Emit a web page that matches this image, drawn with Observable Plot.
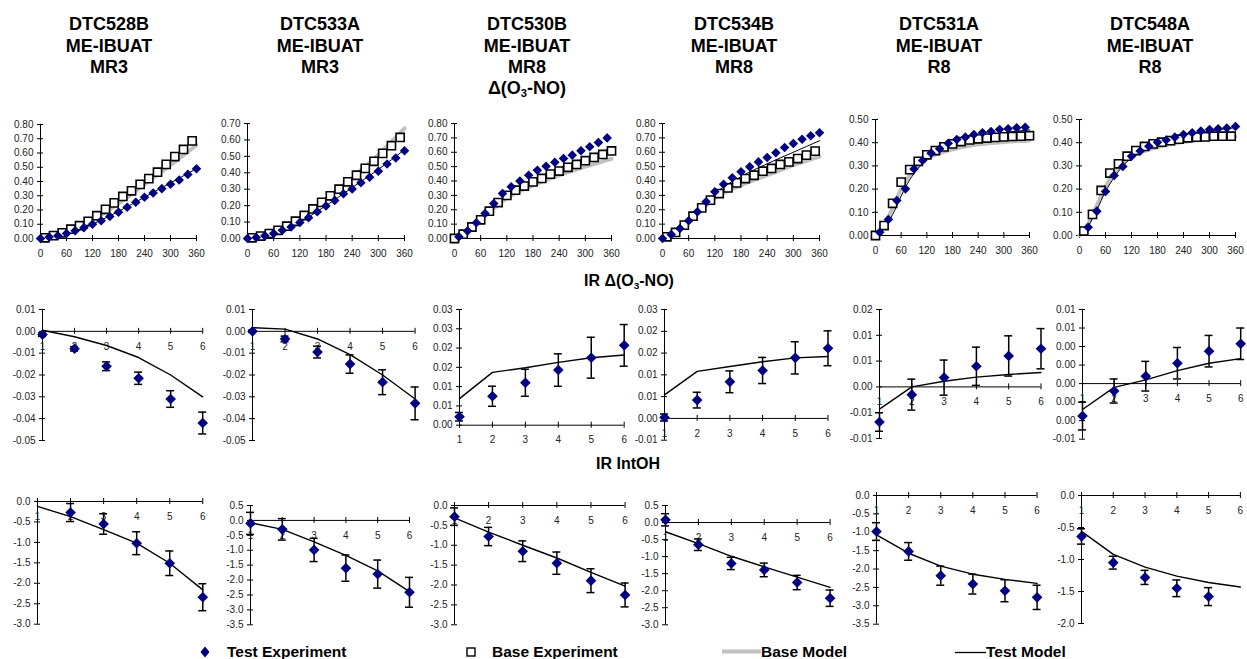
<!DOCTYPE html>
<html><head><meta charset="utf-8">
<script src="https://cdn.jsdelivr.net/npm/d3@7"></script>
<script src="https://cdn.jsdelivr.net/npm/@observablehq/plot@0.6"></script>
<style>
body{margin:0;background:#fff;}
#chart{position:relative;width:1247px;height:659px;overflow:hidden;font-family:"Liberation Sans",Arial,sans-serif;background:#fff;}
.title{position:absolute;font-weight:bold;font-size:18px;transform:translate(-50%,-50%);white-space:nowrap;color:#000;line-height:1;}
.title sub,.leg sub{font-size:0.62em;vertical-align:-0.25em;}
.leg{position:absolute;font-weight:bold;font-size:15.5px;transform:translateY(-50%);white-space:nowrap;line-height:1;}
svg.panel{position:absolute;overflow:visible;}
</style></head><body><div id="chart"></div>
<script>
// ---------------- DATA ----------------
const experiments = ["DTC528B","DTC533A","DTC530B","DTC534B","DTC531A","DTC548A"];
const compounds = ["ME-IBUAT","ME-IBUAT","ME-IBUAT","ME-IBUAT","ME-IBUAT","ME-IBUAT"];
const surrogates = ["MR3","MR3","MR8","MR8","R8","R8"];

// time axes (minutes)
const tEven = [0,20,40,60,80,100,120,140,160,180,200,220,240,260,280,300,320,340,360];
const tOdd = [10,30,50,70,90,110,130,150,170,190,210,230,250,270,290,310,330,350];
const tEvenNo0 = [20,40,60,80,100,120,140,160,180,200,220,240,260,280,300,320,340,360];
const tModelA = [0,30,60,90,120,180,240,300,360];
const tModelB = [0,20,40,60,80,100,120,160,200,240,300,360];
const topXTicks = [0,60,120,180,240,300,360];
const topXLabels = ["0","60","120","180","240","300","360"];

// Δ(O3-NO) time series
const test528 = [0,0.01,0.02,0.035,0.055,0.075,0.10,0.125,0.155,0.185,0.22,0.255,0.29,0.32,0.35,0.38,0.41,0.45,0.49];
const base528 = [0.005,0.02,0.04,0.065,0.09,0.12,0.16,0.205,0.25,0.295,0.335,0.38,0.42,0.465,0.52,0.575,0.625,0.685];
const baseModel528 = [0,0.015,0.04,0.08,0.13,0.245,0.38,0.515,0.655];
const testModel528 = [0,0.015,0.035,0.06,0.10,0.19,0.29,0.39,0.49];

const test533 = [0,0.006,0.016,0.03,0.05,0.07,0.097,0.127,0.163,0.198,0.232,0.272,0.302,0.339,0.373,0.41,0.454,0.49,0.534];
const base533 = [0.004,0.015,0.03,0.05,0.075,0.105,0.14,0.18,0.22,0.26,0.30,0.345,0.385,0.427,0.47,0.518,0.565,0.615];
const baseModel533 = [0,0.012,0.04,0.075,0.12,0.24,0.37,0.51,0.67];
const testModel533 = [0,0.01,0.03,0.06,0.10,0.20,0.31,0.42,0.54];

const test530 = [0.012,0.053,0.11,0.174,0.243,0.313,0.36,0.40,0.44,0.475,0.503,0.53,0.556,0.58,0.61,0.638,0.668,0.70];
const base530 = [0,0.03,0.08,0.13,0.19,0.25,0.30,0.336,0.365,0.394,0.418,0.448,0.469,0.495,0.515,0.541,0.564,0.585,0.609];
const baseModel530 = [0,0.06,0.13,0.21,0.28,0.37,0.44,0.50,0.555];
const testModel530 = [0,0.06,0.14,0.23,0.31,0.41,0.49,0.56,0.63];

const test534 = [0,0.028,0.07,0.123,0.186,0.255,0.325,0.378,0.422,0.464,0.499,0.533,0.563,0.596,0.633,0.661,0.691,0.715,0.735];
const base534 = [0.012,0.042,0.093,0.155,0.213,0.267,0.313,0.352,0.387,0.417,0.44,0.468,0.487,0.515,0.533,0.556,0.58,0.608];
const baseModel534 = [0,0.05,0.12,0.20,0.28,0.37,0.44,0.51,0.57];
const testModel534 = [0,0.05,0.12,0.21,0.31,0.43,0.52,0.60,0.68];

const test531 = [0.014,0.069,0.151,0.201,0.287,0.323,0.355,0.374,0.398,0.414,0.424,0.435,0.443,0.448,0.457,0.46,0.464,0.467];
const base531 = [0,0.043,0.139,0.23,0.284,0.32,0.348,0.366,0.382,0.395,0.405,0.412,0.417,0.42,0.423,0.425,0.427,0.428,0.43];
const baseModel531 = [0,0.04,0.12,0.2,0.26,0.3,0.33,0.36,0.38,0.393,0.403,0.41];
const testModel531 = [0,0.03,0.09,0.17,0.24,0.29,0.33,0.375,0.405,0.425,0.443,0.455];

const test548 = [0.036,0.105,0.19,0.259,0.297,0.342,0.364,0.385,0.402,0.412,0.424,0.435,0.443,0.45,0.457,0.46,0.463,0.47];
const base548 = [0.019,0.091,0.194,0.269,0.309,0.342,0.366,0.384,0.395,0.402,0.409,0.415,0.421,0.424,0.425,0.428,0.428,0.428];
const baseModel548 = [0,0.05,0.13,0.21,0.27,0.31,0.34,0.37,0.39,0.403,0.415,0.425];
const testModel548 = [0,0.04,0.11,0.19,0.25,0.30,0.335,0.38,0.41,0.43,0.45,0.465];

// Incremental reactivity (hours)
const hours = [1,2,3,4,5,6];
const hours2to6 = [2,3,4,5,6];
const hours1to5 = [1,2,3,4,5];
const hourLabels = ["1","2","3","4","5","6"];

// IR Δ(O3-NO)
const irO3_528 = [-0.0015,-0.008,-0.016,-0.0215,-0.031,-0.042];
const irO3Err_528 = [0.0008,0.001,0.002,0.0028,0.0038,0.005];
const irO3Model_528 = [0.0005,-0.0025,-0.0065,-0.012,-0.020,-0.030];
const irO3_533 = [0.0,-0.0035,-0.0095,-0.015,-0.0233,-0.033];
const irO3Err_533 = [0.0005,0.0013,0.0027,0.0042,0.0057,0.0075];
const irO3Model_533 = [0.0017,0.001,-0.0035,-0.0107,-0.020,-0.031];
const irO3_530 = [0.0022,0.0075,0.011,0.0143,0.0175,0.0207];
const irO3Err_530 = [0.0011,0.0026,0.0035,0.0042,0.0053,0.0054];
const irO3Model_530 = [0.0069,0.0137,0.0149,0.0163,0.0175,0.0182];
const irO3_534 = [0.0002,0.0042,0.0084,0.011,0.0139,0.0161];
const irO3Err_534 = [0.0008,0.0018,0.0025,0.003,0.0037,0.004];
const irO3Model_534 = [0.0054,0.0108,0.0119,0.013,0.0139,0.0142];
const irO3_531 = [-0.0068,-0.0015,0.0018,0.004,0.006,0.0074];
const irO3Err_531 = [0.0018,0.003,0.0034,0.0037,0.0039,0.0039];
const irO3Model_531 = [-0.0043,0.0,0.0011,0.0019,0.0024,0.0028];
const irO3_548 = [-0.0035,-0.0008,0.0008,0.0022,0.0035,0.0043];
const irO3Err_548 = [0.0015,0.0013,0.0016,0.0017,0.0017,0.0017];
const irO3Model_548 = [-0.0028,-0.0004,0.0004,0.0014,0.0022,0.0027];

// IR IntOH
const irOH_528 = [-0.27,-0.55,-1.02,-1.51,-2.34];
const irOHErr_528 = [0.22,0.25,0.28,0.3,0.33];
const irOHModel_528 = [-0.12,-0.37,-0.69,-1.02,-1.51,-2.16];
const irOH_533 = [-0.1,-0.3,-0.99,-1.6,-1.8,-2.41];
const irOHErr_533 = [0.37,0.36,0.39,0.44,0.47,0.5];
const irOHModel_533 = [-0.08,-0.3,-0.72,-1.17,-1.69,-2.39];
const irOH_530 = [-0.28,-0.78,-1.15,-1.45,-1.89,-2.25];
const irOHErr_530 = [0.22,0.23,0.26,0.28,0.3,0.3];
const irOHModel_530 = [-0.31,-0.67,-1.0,-1.32,-1.68,-2.03];
const irOH_534 = [0.08,-0.65,-1.2,-1.39,-1.76,-2.22];
const irOHErr_534 = [0.18,0.17,0.18,0.2,0.21,0.24];
const irOHModel_534 = [-0.27,-0.62,-0.99,-1.3,-1.6,-1.9];
const irOH_531 = [-0.98,-1.52,-2.18,-2.41,-2.59,-2.77];
const irOHErr_531 = [0.24,0.24,0.26,0.27,0.3,0.33];
const irOHModel_531 = [-1.07,-1.57,-1.92,-2.14,-2.28,-2.39];
const irOH_548 = [-0.64,-1.05,-1.28,-1.45,-1.58];
const irOHErr_548 = [0.12,0.1,0.11,0.13,0.14];
const irOHModel_548 = [-0.56,-0.92,-1.12,-1.26,-1.36,-1.43];

// y tick values and labels
const yT_08 = [0,0.1,0.2,0.3,0.4,0.5,0.6,0.7,0.8];
const yL_08 = ["0.00","0.10","0.20","0.30","0.40","0.50","0.60","0.70","0.80"];
const yT_07 = [0,0.1,0.2,0.3,0.4,0.5,0.6,0.7];
const yL_07 = ["0.00","0.10","0.20","0.30","0.40","0.50","0.60","0.70"];
const yT_05 = [0,0.1,0.2,0.3,0.4,0.5];
const yL_05 = ["0.00","0.10","0.20","0.30","0.40","0.50"];

const yT_m1 = [0.01,0,-0.01,-0.02,-0.03,-0.04,-0.05];
const yL_m1 = ["0.01","0.00","-0.01","-0.02","-0.03","-0.04","-0.05"];
const yT_m3 = [0.03,0.025,0.02,0.015,0.01,0.005,0];
const yL_m3 = ["0.03","0.03","0.02","0.02","0.01","0.01","0.00"];
const yT_m4 = [0.025,0.02,0.015,0.01,0.005,0,-0.005];
const yL_m4 = ["0.03","0.02","0.02","0.01","0.01","0.00","-0.01"];
const yT_m5 = [0.015,0.01,0.005,0,-0.005,-0.01];
const yL_m5 = ["0.02","0.01","0.01","0.00","-0.01","-0.01"];
const yT_m6 = [0.008,0.006,0.004,0.002,0,-0.002,-0.004,-0.006];
const yL_m6 = ["0.01","0.01","0.00","0.00","0.00","0.00","0.00","-0.01"];

const yT_b30 = [0,-0.5,-1,-1.5,-2,-2.5,-3];
const yL_b30 = ["0.0","-0.5","-1.0","-1.5","-2.0","-2.5","-3.0"];
const yT_b35h = [0.5,0,-0.5,-1,-1.5,-2,-2.5,-3,-3.5];
const yL_b35h = ["0.5","0.0","-0.5","-1.0","-1.5","-2.0","-2.5","-3.0","-3.5"];
const yT_b30h = [0.5,0,-0.5,-1,-1.5,-2,-2.5,-3];
const yL_b30h = ["0.5","0.0","-0.5","-1.0","-1.5","-2.0","-2.5","-3.0"];
const yT_b35 = [0,-0.5,-1,-1.5,-2,-2.5,-3,-3.5];
const yL_b35 = ["0.0","-0.5","-1.0","-1.5","-2.0","-2.5","-3.0","-3.5"];
const yT_b20 = [0,-0.5,-1,-1.5,-2];
const yL_b20 = ["0.0","-0.5","-1.0","-1.5","-2.0"];

// ---------------- HELPERS ----------------
const NAVY = "#000080", GRAY = "#c0c0c0", INK = "#000", LABEL = "#222";
const rows = (xs, ys, es) => xs.map((x, i) => ({x, y: ys[i], e: es ? es[i] : 0}));
const chart = document.getElementById("chart");

function addPanel(spec) {
  const [fx1, fx2, fy1, fy2] = spec.frame;
  const mL = 50, mR = 16, mT = 12, mB = 26;
  const fw = fx2 - fx1, fh = fy2 - fy1;
  const [x0, x1] = spec.xDomain;
  const [ylo, yhi] = spec.yDomain;
  const marks = [
    Plot.ruleX([x0], {x: d => d, y1: ylo, y2: yhi, stroke: INK, strokeWidth: 1}),
    Plot.ruleY([0], {y: d => d, x1: x0, x2: x1, stroke: INK, strokeWidth: 1}),
    Plot.ruleY(spec.yTicks, {y: d => d, x1: x0, x2: x0, insetLeft: -3, insetRight: -3, stroke: INK}),
    Plot.ruleX(spec.xTicks, {x: d => d, y1: 0, y2: 0, insetTop: -3, insetBottom: -3, stroke: INK}),
    Plot.text(spec.yTicks, {x: x0, y: d => d, text: (d, i) => spec.yLabels[i], textAnchor: "end", dx: -7, fontSize: 10, fill: LABEL, fontFamily: "Liberation Sans"}),
    Plot.text(spec.xTicks, {x: d => d, y: 0, text: (d, i) => spec.xLabels[i], dy: 15, fontSize: 10, fill: LABEL, fontFamily: "Liberation Sans"}),
    ...spec.marks
  ];
  const svg = Plot.plot({
    width: fw + mL + mR, height: fh + mT + mB,
    marginLeft: mL, marginRight: mR, marginTop: mT, marginBottom: mB,
    x: {domain: spec.xDomain, axis: null},
    y: {domain: spec.yDomain, axis: null},
    style: {background: "transparent", overflow: "visible"},
    marks
  });
  svg.classList.add("panel");
  svg.style.left = (fx1 - mL) + "px";
  svg.style.top = (fy1 - mT) + "px";
  chart.appendChild(svg);
}

function topMarks(tTest, test, tBase, base, tModel, baseModel, testModel) {
  return [
    Plot.line(rows(tModel, baseModel), {x: "x", y: "y", stroke: GRAY, strokeWidth: 4, curve: "monotone-x"}),
    Plot.line(rows(tModel, testModel), {x: "x", y: "y", stroke: INK, strokeWidth: 1, curve: "monotone-x"}),
    Plot.dot(rows(tBase, base), {x: "x", y: "y", symbol: "square", r: 4.6, fill: "#fff", stroke: INK, strokeWidth: 1.6}),
    Plot.dot(rows(tTest, test), {x: "x", y: "y", symbol: "diamond2", r: 4.3, fill: NAVY, stroke: "none"})
  ];
}

function irMarks(hTest, vals, errs, model) {
  const pts = rows(hTest, vals, errs);
  return [
    Plot.line(rows(hours, model), {x: "x", y: "y", stroke: INK, strokeWidth: 1.4}),
    Plot.ruleX(pts, {x: "x", y1: d => d.y - d.e, y2: d => d.y + d.e, stroke: INK, strokeWidth: 1.5}),
    Plot.ruleY(pts, {y: d => d.y + d.e, x1: "x", x2: "x", insetLeft: -4, insetRight: -4, stroke: INK, strokeWidth: 1.5}),
    Plot.ruleY(pts, {y: d => d.y - d.e, x1: "x", x2: "x", insetLeft: -4, insetRight: -4, stroke: INK, strokeWidth: 1.5}),
    Plot.dot(pts, {x: "x", y: "y", symbol: "diamond2", r: 4.8, fill: NAVY, stroke: "none"})
  ];
}

// ---------------- LAYOUT (page pixels) ----------------
const topFrames = [[40,196,124,238],[247,404,123,238],[454,611,123,238],[662,819,123,238],[875,1029,119,235],[1079,1235,119,235]];
const midFrames = [[41.8,202,309.3,440.3],[251.9,414.5,309.3,440.3],[459,623.7,309.3,425],[663.8,827.3,309.3,440],[879,1040.5,309.3,438.3],[1082.3,1240.5,309.3,439]];
const botFrames = [[36.7,202,501.3,624],[250.3,409.3,504.7,624],[454.4,625,504.7,624],[664.6,829.2,504.7,624],[875.9,1036.5,495.3,624],[1081.1,1240,495.3,623.3]];

// ---------------- TOP ROW ----------------
const topSpecs = [
  {yDomain: [0,0.8], yTicks: yT_08, yLabels: yL_08, marks: topMarks(tEven, test528, tOdd, base528, tModelA, baseModel528, testModel528)},
  {yDomain: [0,0.7], yTicks: yT_07, yLabels: yL_07, marks: topMarks(tEven, test533, tOdd, base533, tModelA, baseModel533, testModel533)},
  {yDomain: [0,0.8], yTicks: yT_08, yLabels: yL_08, marks: topMarks(tOdd, test530, tEven, base530, tModelA, baseModel530, testModel530)},
  {yDomain: [0,0.8], yTicks: yT_08, yLabels: yL_08, marks: topMarks(tEven, test534, tOdd, base534, tModelA, baseModel534, testModel534)},
  {yDomain: [0,0.5], yTicks: yT_05, yLabels: yL_05, marks: topMarks(tOdd, test531, tEven, base531, tModelB, baseModel531, testModel531)},
  {yDomain: [0,0.5], yTicks: yT_05, yLabels: yL_05, marks: topMarks(tEvenNo0, test548, tOdd, base548, tModelB, baseModel548, testModel548)}
];
topSpecs.forEach((s, i) => addPanel({...s, frame: topFrames[i], xDomain: [0,360], xTicks: topXTicks, xLabels: topXLabels}));

// ---------------- MIDDLE ROW ----------------
const midSpecs = [
  {yDomain: [-0.05,0.01], yTicks: yT_m1, yLabels: yL_m1, marks: irMarks(hours, irO3_528, irO3Err_528, irO3Model_528)},
  {yDomain: [-0.05,0.01], yTicks: yT_m1, yLabels: yL_m1, marks: irMarks(hours, irO3_533, irO3Err_533, irO3Model_533)},
  {yDomain: [0,0.03], yTicks: yT_m3, yLabels: yL_m3, marks: irMarks(hours, irO3_530, irO3Err_530, irO3Model_530)},
  {yDomain: [-0.005,0.025], yTicks: yT_m4, yLabels: yL_m4, marks: irMarks(hours, irO3_534, irO3Err_534, irO3Model_534)},
  {yDomain: [-0.01,0.015], yTicks: yT_m5, yLabels: yL_m5, marks: irMarks(hours, irO3_531, irO3Err_531, irO3Model_531)},
  {yDomain: [-0.006,0.008], yTicks: yT_m6, yLabels: yL_m6, marks: irMarks(hours, irO3_548, irO3Err_548, irO3Model_548)}
];
midSpecs.forEach((s, i) => addPanel({...s, frame: midFrames[i], xDomain: [1,6], xTicks: hours, xLabels: hourLabels}));

// ---------------- BOTTOM ROW ----------------
const botSpecs = [
  {yDomain: [-3,0], yTicks: yT_b30, yLabels: yL_b30, marks: irMarks(hours2to6, irOH_528, irOHErr_528, irOHModel_528)},
  {yDomain: [-3.5,0.5], yTicks: yT_b35h, yLabels: yL_b35h, marks: irMarks(hours, irOH_533, irOHErr_533, irOHModel_533)},
  {yDomain: [-3,0], yTicks: yT_b30, yLabels: yL_b30, marks: irMarks(hours, irOH_530, irOHErr_530, irOHModel_530)},
  {yDomain: [-3,0.5], yTicks: yT_b30h, yLabels: yL_b30h, marks: irMarks(hours, irOH_534, irOHErr_534, irOHModel_534)},
  {yDomain: [-3.5,0], yTicks: yT_b35, yLabels: yL_b35, marks: irMarks(hours, irOH_531, irOHErr_531, irOHModel_531)},
  {yDomain: [-2,0], yTicks: yT_b20, yLabels: yL_b20, marks: irMarks(hours1to5, irOH_548, irOHErr_548, irOHModel_548)}
];
botSpecs.forEach((s, i) => addPanel({...s, frame: botFrames[i], xDomain: [1,6], xTicks: hours, xLabels: hourLabels}));

// ---------------- TITLES ----------------
const titleX = [109, 320, 527, 734, 939, 1150];
const titleY = [24, 45.5, 67];
function addText(cls, html, x, y) {
  const d = document.createElement("div");
  d.className = cls; d.innerHTML = html;
  d.style.left = x + "px"; d.style.top = y + "px";
  chart.appendChild(d);
  return d;
}
experiments.forEach((e, i) => {
  addText("title", e, titleX[i], titleY[0]);
  addText("title", compounds[i], titleX[i], titleY[1]);
  addText("title", surrogates[i], titleX[i], titleY[2]);
});
addText("title", "&Delta;(O<sub>3</sub>-NO)", titleX[2], 89);
addText("title", "IR &Delta;(O<sub>3</sub>-NO)", 629, 282).style.fontSize = "16px";
addText("title", "IR IntOH", 628, 464).style.fontSize = "16px";

// ---------------- LEGEND ----------------
const legY = 652;
function addSvg(x, y, w, h, inner) {
  const ns = "http://www.w3.org/2000/svg";
  const s = document.createElementNS(ns, "svg");
  s.setAttribute("width", w); s.setAttribute("height", h);
  s.style.position = "absolute"; s.style.left = (x - w / 2) + "px"; s.style.top = (y - h / 2) + "px";
  s.innerHTML = inner;
  chart.appendChild(s);
}
addSvg(205, legY, 10, 12, `<polygon points="5,0.5 9.5,6 5,11.5 0.5,6" fill="${NAVY}"/>`);
addText("leg", "Test Experiment", 227, legY);
addSvg(471, legY, 10, 10, `<rect x="1" y="1" width="8" height="8" fill="#fff" stroke="#000" stroke-width="1.4"/>`);
addText("leg", "Base Experiment", 492, legY);
addSvg(741.5, legY - 1, 39, 5, `<rect x="0" y="0.5" width="39" height="4" fill="${GRAY}"/>`);
addText("leg", "Base Model", 761, legY);
addSvg(970.5, legY, 31, 3, `<line x1="0" y1="1.5" x2="31" y2="1.5" stroke="#000" stroke-width="1.3"/>`);
addText("leg", "Test Model", 986, legY);
</script></body></html>
